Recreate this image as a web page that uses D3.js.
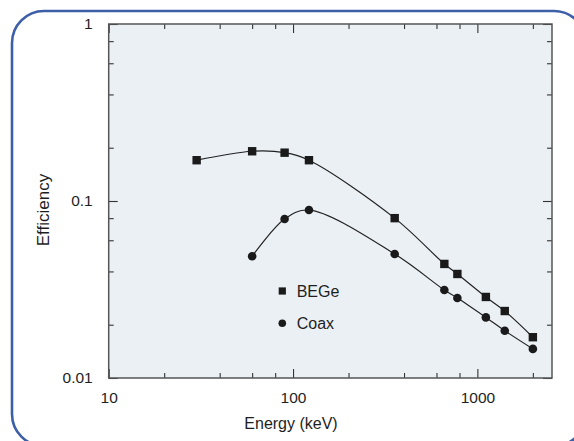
<!DOCTYPE html>
<html>
<head>
<meta charset="utf-8">
<script src="https://cdn.jsdelivr.net/npm/d3@7"></script>
<style>
body { margin: 0; background: #fff; }
svg { display: block; font-family: "Liberation Sans", Arial, sans-serif; }
</style>
</head>
<body>
<script>
// energies in keV and efficiencies
var begeEnergy = [30, 60, 90, 122, 356, 662, 779, 1112, 1408, 2000];
var begeEff = [0.170, 0.191, 0.1875, 0.170, 0.080, 0.0441, 0.0387, 0.0287, 0.0239, 0.0170];
var coaxEnergy = [60, 90, 122, 356, 662, 779, 1112, 1408, 2000];
var coaxEff = [0.0487, 0.0791, 0.0889, 0.0502, 0.0314, 0.0283, 0.0220, 0.0185, 0.0146];

var xMajor = [10, 100, 1000];
var xMinor = [20, 40, 60, 80, 200, 400, 600, 800, 2000];
var yMajor = [0.01, 0.1, 1];
var yMinor = [0.02, 0.04, 0.06, 0.08, 0.2, 0.4, 0.6, 0.8];
var legendNames = ["BEGe", "Coax"];

var W = 574, H = 441;
var margin = {top: 24, right: 22, bottom: 63, left: 108.7},
	width = W - margin.left - margin.right,
	height = H - margin.top - margin.bottom;

var svg = d3.select("body").append("svg")
	.attr("width", W)
	.attr("height", H);

// blue rounded frame (runs off the right and bottom edges)
svg.append("rect")
	.attr("x", 12).attr("y", 11)
	.attr("width", 574).attr("height", 435)
	.attr("rx", 32).attr("ry", 32)
	.attr("fill", "none")
	.attr("stroke", "#3c5fa8")
	.attr("stroke-width", 2.6);

var g = svg.append("g")
	.attr("transform", "translate(" + margin.left + "," + margin.top + ")");

var x = d3.scaleLog().domain([10, 2540]).range([0, width]);
var y = d3.scaleLog().domain([0.01, 1]).range([height, 0]);

g.append("rect")
	.attr("width", width).attr("height", height)
	.attr("fill", "#ebf0f5");

function styleAxis(sel) {
	sel.select(".domain").remove();
	sel.selectAll(".tick line").attr("stroke", "#333").attr("stroke-width", 1.1);
	sel.selectAll(".tick text").attr("fill", "#1e1e1e").style("font-size", "15.5px");
}

// minor ticks on all sides
g.append("g").attr("transform", "translate(0," + height + ")")
	.call(d3.axisBottom(x).tickValues(xMinor).tickSize(-5).tickFormat("")).call(styleAxis);
g.append("g")
	.call(d3.axisTop(x).tickValues(xMinor).tickSize(-5).tickFormat("")).call(styleAxis);
g.append("g")
	.call(d3.axisLeft(y).tickValues(yMinor).tickSize(-5).tickFormat("")).call(styleAxis);
g.append("g").attr("transform", "translate(" + width + ",0)")
	.call(d3.axisRight(y).tickValues(yMinor).tickSize(-5).tickFormat("")).call(styleAxis);

// major ticks + labels
g.append("g").attr("transform", "translate(0," + height + ")")
	.call(d3.axisBottom(x).tickValues(xMajor).tickSize(-9).tickPadding(14).tickFormat(d3.format("d")))
	.call(styleAxis);
g.append("g")
	.call(d3.axisTop(x).tickValues(xMajor).tickSize(-9).tickFormat("")).call(styleAxis);
g.append("g")
	.call(d3.axisLeft(y).tickValues(yMajor).tickSize(-9).tickPadding(16).tickFormat(function(d) { return d; }))
	.call(styleAxis);
g.append("g").attr("transform", "translate(" + width + ",0)")
	.call(d3.axisRight(y).tickValues(yMajor).tickSize(-9).tickFormat("")).call(styleAxis);

// plot frame
g.append("rect")
	.attr("width", width).attr("height", height)
	.attr("fill", "none")
	.attr("stroke", "#555")
	.attr("stroke-width", 1.5);

var line = d3.line()
	.x(function(d) { return x(d[0]); })
	.y(function(d) { return y(d[1]); })
	.curve(d3.curveCatmullRom.alpha(0.5));

var bege = d3.zip(begeEnergy, begeEff);
var coax = d3.zip(coaxEnergy, coaxEff);

[bege, coax].forEach(function(data) {
	g.append("path").datum(data)
		.attr("fill", "none")
		.attr("stroke", "#222")
		.attr("stroke-width", 1.2)
		.attr("d", line);
});

g.selectAll(".sq").data(bege).enter().append("rect")
	.attr("class", "sq")
	.attr("x", function(d) { return x(d[0]) - 4.2; })
	.attr("y", function(d) { return y(d[1]) - 4.2; })
	.attr("width", 8.4).attr("height", 8.4)
	.attr("fill", "#1a1a1a");

g.selectAll(".dot").data(coax).enter().append("circle")
	.attr("class", "dot")
	.attr("cx", function(d) { return x(d[0]); })
	.attr("cy", function(d) { return y(d[1]); })
	.attr("r", 4.3)
	.attr("fill", "#1a1a1a");

// legend
var lx = 282.3 - margin.left, ly = 291 - margin.top;
g.append("rect")
	.attr("x", lx - 3.6).attr("y", ly - 3.6)
	.attr("width", 7.2).attr("height", 7.2)
	.attr("fill", "#1a1a1a");
g.append("circle")
	.attr("cx", lx).attr("cy", ly + 32.3)
	.attr("r", 3.8)
	.attr("fill", "#1a1a1a");
legendNames.forEach(function(name, i) {
	g.append("text")
		.attr("x", lx + 14.4).attr("y", ly + i * 32.3)
		.attr("dy", "0.35em")
		.style("font-size", "16px")
		.attr("fill", "#1e1e1e")
		.text(name);
});

// axis titles
svg.append("text")
	.attr("x", 291).attr("y", 428.8)
	.attr("text-anchor", "middle")
	.style("font-size", "16px")
	.attr("fill", "#1e1e1e")
	.text("Energy (keV)");

svg.append("text")
	.attr("transform", "translate(49,210) rotate(-90)")
	.attr("text-anchor", "middle")
	.style("font-size", "17px")
	.attr("fill", "#1e1e1e")
	.text("Efficiency");
</script>
</body>
</html>
